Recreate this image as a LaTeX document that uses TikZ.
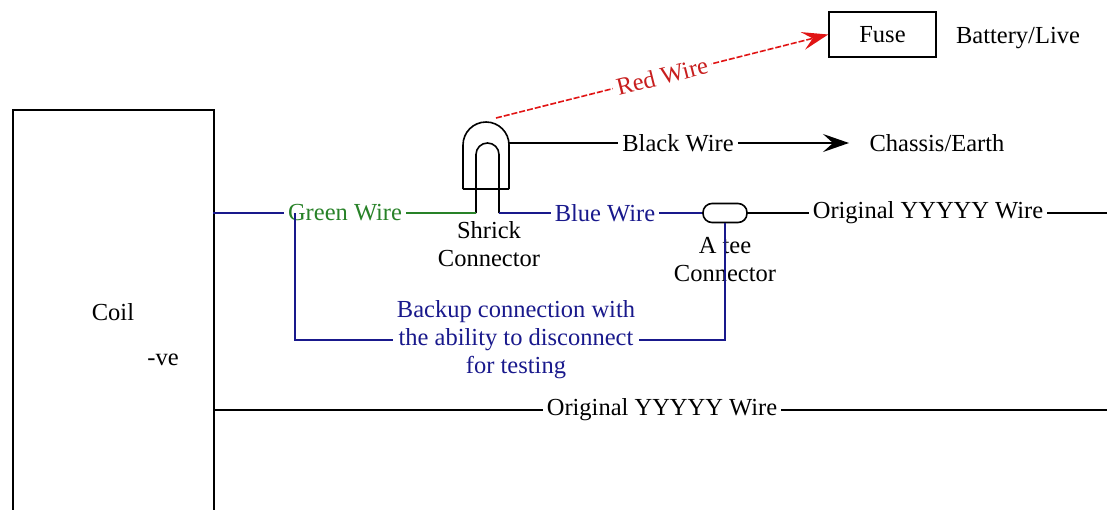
\documentclass[tikz,border=0pt]{standalone}
\usepackage{fontspec}
\setmainfont{Liberation Serif}
\usetikzlibrary{arrows.meta}
\definecolor{wblue}{RGB}{25,25,140}
\definecolor{wgreen}{RGB}{40,130,40}
\definecolor{wred}{RGB}{225,20,20}
\definecolor{tred}{RGB}{200,30,30}
\begin{document}
\begin{tikzpicture}[x=1pt,y=-1pt,
  every node/.style={font=\fontsize{24.5}{28}\selectfont, inner sep=4pt},
  wire/.style={line width=1.6pt},
  lbl/.style={fill=white},
  txt/.style={align=center},
  tip/.style={-{Stealth[length=26pt,width=18pt,inset=10pt]}}]
\useasboundingbox (0,0) rectangle (1107,509);
% coil
\node[draw, line width=1.6pt, minimum width=201pt, minimum height=420pt, anchor=north west] (coil) at (12,109) {};
\node (coiltxt) at (113,312) {Coil};
\node (ve) at (163,360) {-ve};
% fuse
\node[draw, line width=1.6pt, minimum width=107pt, minimum height=45pt] (fuse) at (882.5,34.5) {Fuse};
\node (batt) at (1018,38) {Battery/Live};
% shrick connector
\draw[wire, rounded corners=23pt] (463,189) -- (463,122) -- (509,122) -- (509,189);
\draw[wire] (463,189) -- (509,189);
\draw[wire, rounded corners=11.5pt] (476,213) -- (476,143) -- (499,143) -- (499,213);
\coordinate (shl) at (476,213);
\coordinate (shr) at (499,213);
\coordinate (shb) at (509,143);
\coordinate (shtop) at (496,118);
\node[txt] (shricktxt) at (489,244) {Shrick\\Connector};
% tee connector
\node[draw, line width=1.6pt, rounded corners=9pt, minimum width=44pt, minimum height=19pt, inner sep=0pt] (tee) at (725,213) {};
\node[txt] (teetxt) at (725,260) {A tee\\Connector};
% coordinates
\coordinate (c1) at (213,213);
\coordinate (c2) at (213,410);
\coordinate (jct) at (295,213);
\coordinate (r1) at (1115,213);
\coordinate (r2) at (1115,410);
% labels
\node[text=wgreen] (gw) at (345,213) {Green Wire};
\node[text=wblue] (bw) at (605,213) {Blue Wire};
\node (o1) at (928,213) {Original YYYYY Wire};
\node (o2) at (662,410) {Original YYYYY Wire};
\node (blk) at (678,143) {Black Wire};
\node (chassis) at (937,143) {Chassis/Earth};
\coordinate (arrtip) at (849,143);
\node[txt, text=wblue] (backup) at (516,340) {Backup connection with\\the ability to disconnect\\for testing};
% wires
\draw[wire, wblue] (c1) -- (gw.west);
\draw[wire, wgreen] (gw.east) -- (shl);
\draw[wire, wblue] (shr) -- (bw.west);
\draw[wire, wblue] (bw.east) -- (tee.west);
\draw[wire] (tee.east) -- (o1.west);
\draw[wire] (o1.east) -- (r1);
\draw[wire] (c2) -- (o2.west);
\draw[wire] (o2.east) -- (r2);
\draw[wire] (shb) -- (blk.west);
\draw[wire, tip] (blk.east) -- (arrtip);
\draw[wire, wblue] (jct) |- (backup.west);
\draw[wire, wblue] (backup.east) -| (tee.south);
\draw[wire, wred, dash pattern=on 6pt off 2pt, tip] (shtop) -- node[sloped, lbl, text=tred] (redlbl) {Red Wire} (fuse.west);
\end{tikzpicture}
\end{document}
